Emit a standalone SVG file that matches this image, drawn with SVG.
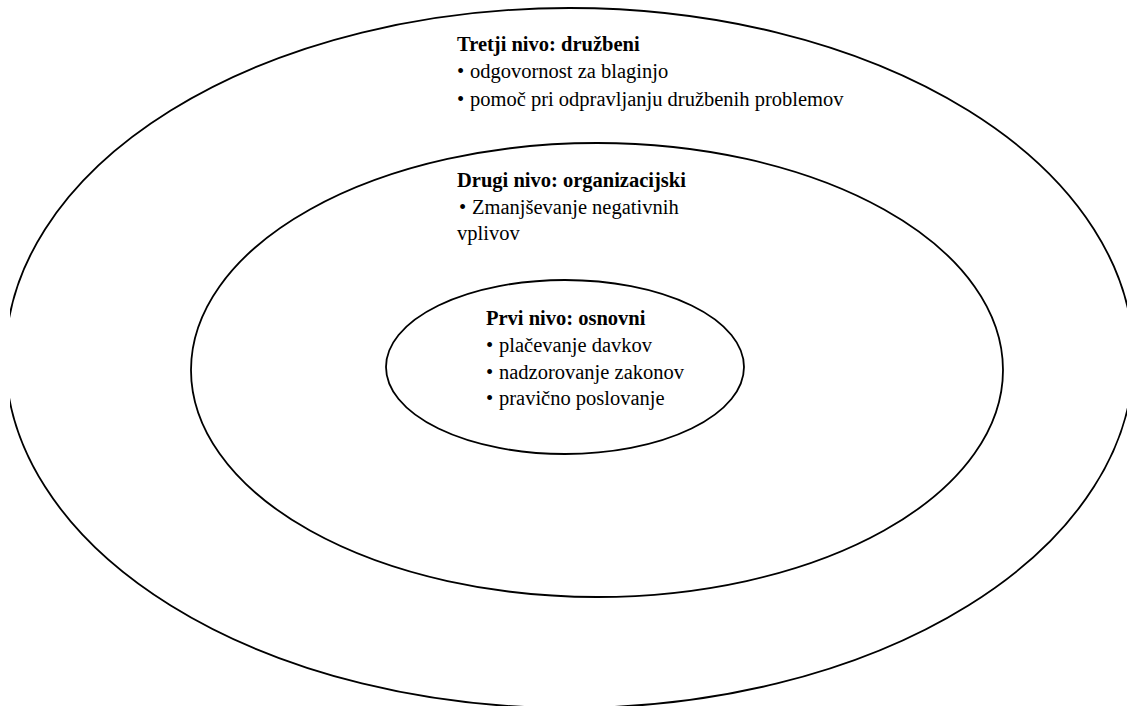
<svg xmlns="http://www.w3.org/2000/svg" width="1127" height="708" viewBox="0 0 1127 708">
  <style>
    .ring { fill: none; stroke: #000; stroke-width: 1.8; }
  </style>
  <defs>
    <!-- page area: the outer ring runs past the left margin and the bottom edge -->
    <clipPath id="page">
      <rect x="10" y="0" width="1117" height="706"/>
    </clipPath>
  </defs>
  <rect width="1127" height="708" fill="#fff"/>

  <!-- Level 3: social -->
  <g id="level-3">
    <ellipse class="ring" cx="569.5" cy="358" rx="564" ry="350" clip-path="url(#page)"/>
    <text x="457" y="50.5" font-family="Liberation Serif" font-size="20.5" font-weight="bold">Tretji nivo: družbeni</text>
    <text x="457" y="78" font-family="Liberation Serif" font-size="20.5">•</text>
    <text x="470" y="78" font-family="Liberation Serif" font-size="20.5">odgovornost za blaginjo</text>
    <text x="457" y="105.5" font-family="Liberation Serif" font-size="20.5">•</text>
    <text x="470" y="105.5" font-family="Liberation Serif" font-size="20.5">pomoč pri odpravljanju družbenih problemov</text>
  </g>

  <!-- Level 2: organisational -->
  <g id="level-2">
    <ellipse class="ring" cx="597" cy="370" rx="406" ry="227"/>
    <text x="457" y="187" font-family="Liberation Serif" font-size="20.5" font-weight="bold">Drugi nivo: organizacijski</text>
    <text x="459" y="214" font-family="Liberation Serif" font-size="20.5">•</text>
    <text x="472" y="214" font-family="Liberation Serif" font-size="20.5">Zmanjševanje negativnih</text>
    <text x="457" y="240" font-family="Liberation Serif" font-size="20.5">vplivov</text>
  </g>

  <!-- Level 1: basic -->
  <g id="level-1">
    <ellipse class="ring" cx="565" cy="367" rx="179" ry="87"/>
    <text x="486" y="325" font-family="Liberation Serif" font-size="20.5" font-weight="bold">Prvi nivo: osnovni</text>
    <text x="486" y="352" font-family="Liberation Serif" font-size="20.5">•</text>
    <text x="499" y="352" font-family="Liberation Serif" font-size="20.5">plačevanje davkov</text>
    <text x="486" y="378.5" font-family="Liberation Serif" font-size="20.5">•</text>
    <text x="499" y="378.5" font-family="Liberation Serif" font-size="20.5">nadzorovanje zakonov</text>
    <text x="486" y="405" font-family="Liberation Serif" font-size="20.5">•</text>
    <text x="499" y="405" font-family="Liberation Serif" font-size="20.5">pravično poslovanje</text>
  </g>
</svg>
